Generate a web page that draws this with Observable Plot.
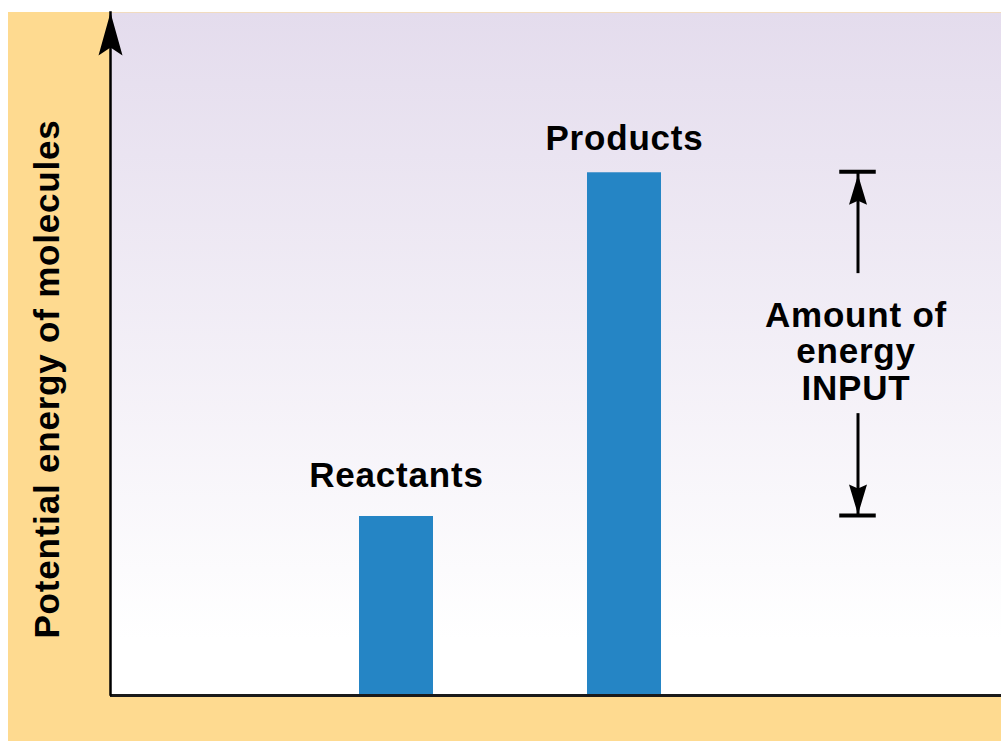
<!DOCTYPE html>
<html>
<head>
<meta charset="utf-8">
<script src="https://cdn.jsdelivr.net/npm/d3@7"></script>
<script src="https://cdn.jsdelivr.net/npm/@observablehq/plot@0.6"></script>
<style>
  html, body { margin: 0; padding: 0; background: #ffffff; }
  #chart { padding: 12px 0 0 8px; width: 993px; height: 729px; }
  #chart svg text { letter-spacing: 0.8px; }
</style>
</head>
<body>
<div id="chart"></div>
<script>
// ---- data ----
const stages = ["Reactants", "Products"];
const energies = [26.1, 76.5];               // potential energy (relative units)
const annotationKey = "Amount of\nenergy\nINPUT";
const yAxisLabel = "Potential energy of molecules";

const bars = stages.map((s, i) => ({stage: s, energy: energies[i]}));
const reactants = energies[0], products = energies[1];
const mid = (reactants + products) / 2;
const bracket = [{low: reactants, high: products, mid, label: annotationKey}];

// ---- style helpers ----
const arrowHead = (hw, len, notch) => ({
  draw(ctx) {
    ctx.moveTo(0, 0);
    ctx.lineTo(hw, len);
    ctx.lineTo(0, len - notch);
    ctx.lineTo(-hw, len);
    ctx.closePath();
  }
});
const font = {fontSize: 35, fontWeight: "bold", fill: "#000"};

const gradientDefs = () => {
  const defs = d3.create("svg:defs");
  const lg = defs.append("linearGradient").attr("id", "bgGrad")
    .attr("x1", 0).attr("y1", 0).attr("x2", 0).attr("y2", 1);
  lg.append("stop").attr("offset", "0%").attr("stop-color", "#E4DCED");
  lg.append("stop").attr("offset", "92%").attr("stop-color", "#FFFFFF");
  return defs.node();
};

const chart = Plot.plot({
  width: 993,
  height: 729,
  marginLeft: 102,
  marginRight: 0,
  marginTop: 0,
  marginBottom: 47,
  style: {
    background: "#FEDA90",
    fontFamily: "'Liberation Sans', Arial, sans-serif",
    color: "#000",
    overflow: "visible"
  },
  x: {type: "band", domain: [...stages, annotationKey], paddingInner: 0.674, paddingOuter: 0.78665, align: 0.6914, axis: null},
  y: {domain: [0, 100], axis: null},
  marks: [
    gradientDefs,
    Plot.frame({fill: "url(#bgGrad)", stroke: "none"}),
    Plot.barY(bars, {x: "stage", y: "energy", fill: "#2585C5"}),
    // bar labels
    Plot.text(bars.filter(d => d.stage === "Reactants"), {x: "stage", y: "energy", text: "stage", lineAnchor: "bottom", dy: -29, ...font}),
    Plot.text(bars.filter(d => d.stage === "Products"), {x: "stage", y: "energy", text: "stage", lineAnchor: "bottom", dy: -23, ...font}),
    // energy-input bracket
    Plot.tickY(bracket, {x: () => annotationKey, y: "high", dx: 5.5, dy: -1, insetLeft: 18.75, insetRight: 18.75, stroke: "#000", strokeWidth: 4}),
    Plot.tickY(bracket, {x: () => annotationKey, y: "low", dx: 5.5, dy: -1, insetLeft: 18.75, insetRight: 18.75, stroke: "#000", strokeWidth: 4}),
    Plot.ruleX(bracket, {x: () => annotationKey, y1: "high", y2: "mid", dx: 5.5, insetBottom: 71, stroke: "#000", strokeWidth: 3}),
    Plot.ruleX(bracket, {x: () => annotationKey, y1: "mid", y2: "low", dx: 5.5, insetTop: 69, stroke: "#000", strokeWidth: 3}),
    Plot.dot(bracket, {x: () => annotationKey, y: "high", dx: 5.5, dy: 2, symbol: arrowHead(9, 30, 4), fill: "#000", stroke: "none"}),
    Plot.dot(bracket, {x: () => annotationKey, y: "low", dx: 5.5, dy: -2, rotate: 180, symbol: arrowHead(9, 30, 4), fill: "#000", stroke: "none"}),
    Plot.text(bracket, {x: () => annotationKey, y: "mid", text: "label", dx: 3.5, dy: 7, lineHeight: 1.043, ...font}),
    // axes
    Plot.ruleY([0], {stroke: "#1a1a1a", strokeWidth: 3, dy: 1}),
    Plot.frame({anchor: "left", stroke: "#000", strokeWidth: 2.5}),
    Plot.dot([0], {x: null, y: null, frameAnchor: "top-left", symbol: arrowHead(12, 43, 8), fill: "#000", stroke: "none"}),
    Plot.text([yAxisLabel], {x: null, y: null, text: d => d, frameAnchor: "left", rotate: -90, textAnchor: "middle", lineAnchor: "bottom", dx: -52, dy: 25.5, ...font})
  ]
});
document.getElementById("chart").append(chart);
</script>
</body>
</html>
